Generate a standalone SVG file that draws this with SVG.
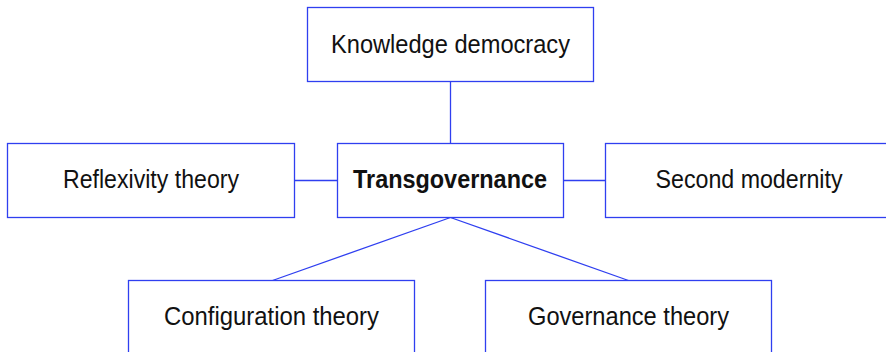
<svg xmlns="http://www.w3.org/2000/svg" width="886" height="352" viewBox="0 0 886 352">
<style>
.box{fill:#fff;stroke:#2f3ff0;stroke-width:1.3}
.edge{stroke:#2f3ff0;stroke-width:1.3;fill:none}
.lbl{font-family:"Liberation Sans",Arial,sans-serif;font-size:25.5px;fill:#111;text-anchor:middle}
.bold{font-weight:bold}
</style>
<rect width="886" height="352" fill="#fff"/>
<g id="connectors">
<line class="edge" x1="450.5" y1="81.5" x2="450.5" y2="143.5"/>
<line class="edge" x1="294.5" y1="180.5" x2="337.5" y2="180.5"/>
<line class="edge" x1="563.5" y1="180.5" x2="605.5" y2="180.5"/>
<line class="edge" x1="450.5" y1="217.5" x2="272.5" y2="280.5"/>
<line class="edge" x1="450.5" y1="217.5" x2="628.5" y2="280.5"/>
</g>
<g id="knowledge-democracy">
<rect class="box" x="307.5" y="7.5" width="286" height="74"/>
<text class="lbl" x="450.5" y="52.5" textLength="239" lengthAdjust="spacingAndGlyphs">Knowledge democracy</text>
</g>
<g id="reflexivity-theory">
<rect class="box" x="7.5" y="143.5" width="287" height="74"/>
<text class="lbl" x="151" y="188" textLength="176" lengthAdjust="spacingAndGlyphs">Reflexivity theory</text>
</g>
<g id="transgovernance">
<rect class="box" x="337.5" y="143.5" width="226" height="74"/>
<text class="lbl bold" x="450" y="188" textLength="194" lengthAdjust="spacingAndGlyphs">Transgovernance</text>
</g>
<g id="second-modernity">
<rect class="box" x="605.5" y="143.5" width="286" height="74"/>
<text class="lbl" x="749" y="188" textLength="187" lengthAdjust="spacingAndGlyphs">Second modernity</text>
</g>
<g id="configuration-theory">
<rect class="box" x="128.5" y="280.5" width="286" height="74"/>
<text class="lbl" x="271.5" y="324.5" textLength="215" lengthAdjust="spacingAndGlyphs">Configuration theory</text>
</g>
<g id="governance-theory">
<rect class="box" x="485.5" y="280.5" width="286" height="74"/>
<text class="lbl" x="628.5" y="324.5" textLength="201" lengthAdjust="spacingAndGlyphs">Governance theory</text>
</g>
</svg>
